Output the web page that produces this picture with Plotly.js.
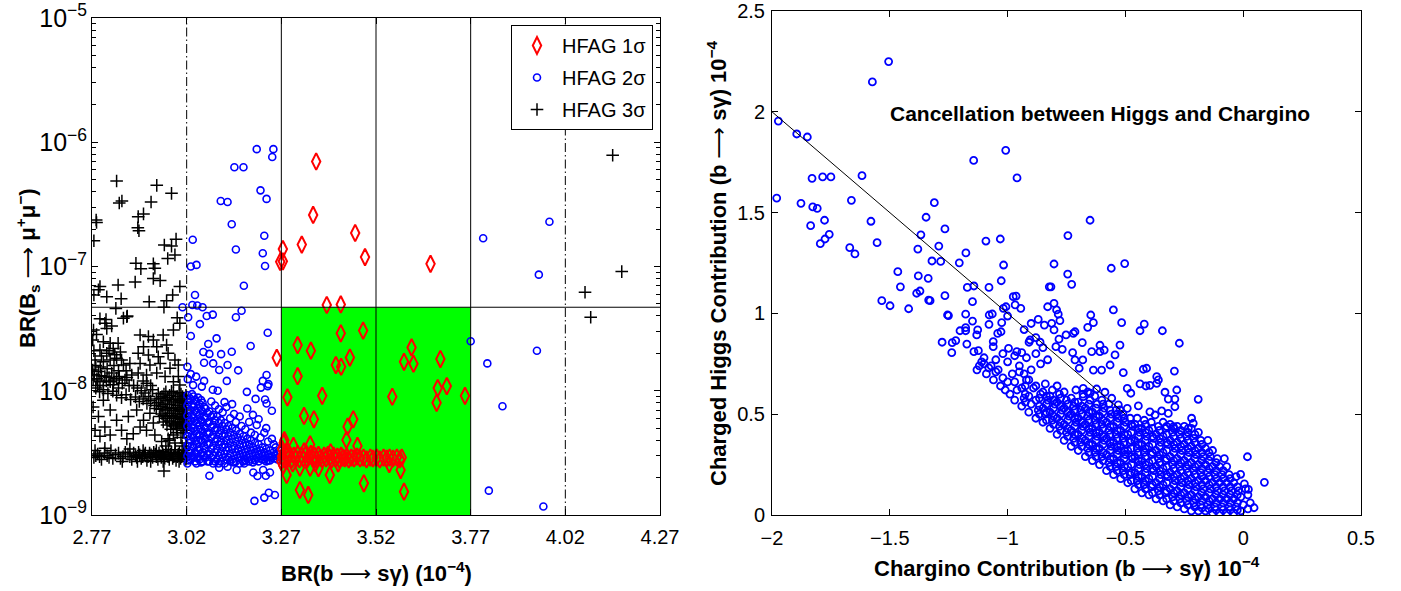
<!DOCTYPE html>
<html>
<head>
<meta charset="utf-8">
<script src="https://cdn.plot.ly/plotly-3.0.1.min.js"></script>
<style>
html,body{margin:0;padding:0;background:#fff;}
#chart{width:1401px;height:591px;}
</style>
</head>
<body>
<div id="chart"></div>
<script>
// ---------------- LEFT PANEL DATA: [BR(b->s gamma) 1e-4, BR(Bs->mu mu)] ----------------
const hfag3Pts = [
 [2.835,4.88e-7],[2.941,4.5e-7],[2.980,3.88e-7],[2.842,3.24e-7],[2.849,3.37e-7],[2.926,3.3e-7],[2.892,2.52e-7],[2.906,2.65e-7],
 [2.891,2.05e-7],[2.894,1.94e-7],[2.781,2.37e-7],[2.782,2.26e-7],[2.775,1.61e-7],[2.961,1.49e-7],[2.980,1.46e-7],[2.992,1.66e-7],
 [2.970,1.16e-7],[2.989,1.24e-7],[2.886,1.06e-7],[2.899,9.6e-8],[2.932,1.05e-7],[2.936,9.7e-8],[2.932,8.0e-8],[2.950,7.7e-8],
 [2.884,7.5e-8],[2.839,7.1e-8],[2.791,6.9e-8],[2.787,6.5e-8],[2.775,5.9e-8],[2.809,5.7e-8],[2.847,5.5e-8],[2.921,5.2e-8],
 [2.967,5.3e-8],[2.983,5.9e-8],[3.002,6.9e-8],[2.833,4.6e-8],[2.960,4.7e-8],[4.145,7.85e-7],[4.169,9.1e-8],[4.072,6.2e-8],
 [2.791,3.8e-8],[2.807,3.75e-8],[2.862,3.94e-8],[2.995,3.87e-8],[4.087,3.9e-8],
 [2.774,3.08e-8],[2.782,2.84e-8],[2.772,2.56e-8],[2.804,3.49e-8],[2.809,3.17e-8],[2.822,3.32e-8],[2.853,3.84e-8],[2.863,4.0e-8],
 [2.800,2.48e-8],[2.818,2.41e-8],[2.826,2.19e-8],[2.839,2.41e-8],[2.809,2.0e-8],[2.791,2.13e-8],[2.778,1.77e-8],[2.800,1.71e-8],
 [2.818,1.77e-8],[2.835,1.83e-8],[2.848,1.77e-8],[2.853,1.61e-8],[2.870,1.66e-8],[2.772,1.47e-8],[2.787,1.43e-8],[2.804,1.30e-8],
 [2.822,1.39e-8],[2.835,1.26e-8],[2.857,1.22e-8],[2.875,1.34e-8],[2.773,1.22e-8],[2.791,1.18e-8],[2.818,1.18e-8],
 [2.897,2.81e-8],[2.919,2.73e-8],[2.932,2.56e-8],[2.958,2.81e-8],[2.985,3.08e-8],[3.002,3.49e-8],[2.941,2.26e-8],[2.967,2.33e-8],
 [2.906,2.26e-8],[2.892,2.0e-8],[2.919,1.94e-8],[2.945,1.88e-8],[2.971,2.0e-8],[2.989,1.77e-8],[2.998,1.61e-8],[2.897,1.66e-8],
 [2.923,1.61e-8],[2.950,1.66e-8],[2.976,1.52e-8],[2.998,1.30e-8],[2.892,1.39e-8],[2.914,1.34e-8],[2.941,1.39e-8],[2.963,1.30e-8],
 [2.985,1.18e-8],[3.002,1.11e-8],
 [2.780,1.05e-8],[2.790,9.8e-9],[2.800,1.02e-8],[2.812,9.5e-9],[2.825,9.9e-9],[2.835,9.2e-9],[2.848,8.8e-9],[2.860,9.3e-9],
 [2.872,8.5e-9],[2.885,8.9e-9],[2.895,8.2e-9],[2.905,8.6e-9],[2.915,7.9e-9],[2.925,8.3e-9],[2.935,7.6e-9],[2.880,1.1e-8],
 [2.890,1.05e-8],[2.900,1.0e-8],[2.910,9.6e-9],[2.920,9.0e-9],[2.930,1.02e-8],[2.940,8.6e-9],[2.905,1.2e-8],[2.925,1.1e-8],[2.915,1.15e-8],
 [2.945,9.5e-9],[2.945,8.0e-9],[2.955,9.0e-9],[2.955,7.5e-9],[2.955,6.5e-9],[2.965,9.8e-9],[2.965,8.3e-9],[2.965,7.0e-9],
 [2.965,6.0e-9],[2.975,9.2e-9],[2.975,7.8e-9],[2.975,6.6e-9],[2.975,5.7e-9],[2.985,9.6e-9],[2.985,8.1e-9],[2.985,6.9e-9],
 [2.985,6.0e-9],[2.985,5.2e-9],[2.995,9.0e-9],[2.995,7.6e-9],[2.995,6.5e-9],[2.995,5.6e-9],[3.005,9.4e-9],[3.005,8.0e-9],
 [3.005,6.8e-9],[3.005,5.9e-9],[3.005,5.1e-9],[3.013,8.6e-9],[3.013,7.3e-9],[3.013,6.2e-9],[3.013,5.4e-9],[3.018,9.2e-9],
 [3.018,7.9e-9],[3.018,6.6e-9],[3.018,5.7e-9],
 [2.950,8.7e-9],[2.950,7.1e-9],[2.960,9.4e-9],[2.960,7.8e-9],[2.960,6.3e-9],[2.970,8.8e-9],[2.970,7.3e-9],[2.970,6.2e-9],
 [2.980,9.9e-9],[2.980,8.5e-9],[2.980,7.2e-9],[2.980,6.3e-9],[2.980,5.5e-9],[2.990,8.6e-9],[2.990,7.3e-9],[2.990,6.2e-9],
 [2.990,5.4e-9],[3.000,9.7e-9],[3.000,8.3e-9],[3.000,7.1e-9],[3.000,6.1e-9],[3.000,5.3e-9],[3.009,9.0e-9],[3.009,7.6e-9],
 [3.009,6.5e-9],[3.009,5.6e-9],[3.016,8.2e-9],[3.016,7.0e-9],[3.016,6.0e-9],[3.016,5.2e-9],[2.940,7.2e-9],[2.948,6.2e-9],
 [2.958,5.6e-9],[2.968,5.3e-9],[2.978,4.9e-9],[2.993,5.0e-9],[3.010,4.6e-9],
 [2.776,1.35e-8],[2.783,1.25e-8],[2.795,1.32e-8],[2.808,1.2e-8],[2.815,1.28e-8],[2.828,1.22e-8],[2.842,1.3e-8],[2.850,1.15e-8],
 [2.862,1.28e-8],[2.868,1.1e-8],[2.780,1.6e-8],[2.792,1.55e-8],[2.810,1.5e-8],[2.828,1.6e-8],[2.840,1.45e-8],[2.860,1.45e-8],
 [2.795,1.9e-8],[2.815,2.1e-8],[2.830,1.95e-8],[2.845,2.05e-8],[2.775,2.1e-8],[2.785,1.1e-8],[2.800,1.1e-8],[2.840,1.05e-8],[2.826,1.12e-8],
 [2.773,7.4e-9],[2.800,8.4e-9],[2.787,6.2e-9],[2.818,7.0e-9],[2.778,4.8e-9],[2.804,5.1e-9],[2.835,5.8e-9],[2.791,4.3e-9],
 [2.818,4.4e-9],[2.848,4.8e-9],[2.862,4.1e-9],[2.879,4.5e-9],[2.897,5.1e-9],[2.914,4.8e-9],[2.906,5.8e-9],[2.932,5.5e-9],
 [2.936,4.4e-9],[2.954,3.9e-9],[2.971,4.1e-9],[2.989,3.8e-9],[2.923,6.6e-9],[2.888,7.0e-9],[2.866,6.2e-9],[2.778,3.3e-9],[2.804,3.45e-9],
 [2.995,4.6e-9],[3.005,4.2e-9],[3.012,4.8e-9],[3.018,3.8e-9],[2.985,4.4e-9],[3.008,3.6e-9],[2.975,4.0e-9],[2.965,3.6e-9],
 [2.775,2.9e-9],[2.785,3.1e-9],[2.795,2.8e-9],[2.810,3.0e-9],[2.825,2.85e-9],[2.840,3.15e-9],[2.852,2.95e-9],[2.865,3.1e-9],
 [2.875,2.8e-9],[2.885,3.0e-9],[2.893,3.2e-9],[2.900,2.85e-9],[2.908,3.05e-9],[2.915,2.75e-9],[2.922,3.15e-9],[2.930,2.9e-9],
 [2.937,3.1e-9],[2.944,2.8e-9],[2.950,3.0e-9],[2.956,3.25e-9],[2.962,2.85e-9],[2.968,3.05e-9],[2.974,2.8e-9],[2.980,3.2e-9],
 [2.986,2.95e-9],[2.992,2.75e-9],[2.998,3.1e-9],[3.004,2.85e-9],[3.010,3.0e-9],[3.016,2.8e-9],[2.890,2.7e-9],[2.905,3.3e-9],
 [2.925,2.7e-9],[2.940,3.3e-9],[2.958,2.7e-9],[2.972,3.35e-9],[2.990,3.35e-9],[3.000,2.7e-9],[3.012,3.3e-9],[2.960,2.26e-9],
 [2.820,3.3e-9],[2.850,2.7e-9],[2.870,3.4e-9],
 [2.780,3.0e-9],[2.790,2.95e-9],[2.803,3.15e-9],[2.815,2.9e-9],[2.832,3.05e-9],[2.845,2.85e-9],[2.858,3.2e-9],[2.870,2.95e-9],
 [2.880,3.15e-9],[2.888,2.9e-9],[2.896,3.05e-9],[2.904,2.95e-9],[2.911,3.15e-9],[2.918,2.95e-9],[2.926,3.05e-9],[2.933,3.2e-9],
 [2.940,2.95e-9],[2.947,3.15e-9],[2.953,2.9e-9],[2.959,3.05e-9],[2.965,3.2e-9],[2.971,2.95e-9],[2.977,3.1e-9],[2.983,2.85e-9],
 [2.989,3.1e-9],[2.995,2.95e-9],[3.001,3.2e-9],[3.007,2.95e-9],[3.013,3.1e-9],[3.019,3.0e-9]
];

const hfag2Pts = [
 [3.205,8.8e-7],[3.249,8.8e-7],[3.246,7.6e-7],[3.146,6.3e-7],[3.170,6.3e-7],[3.110,3.37e-7],[3.128,3.3e-7],[3.215,4.1e-7],
 [3.231,3.5e-7],[3.139,2.19e-7],[3.225,1.77e-7],[3.036,1.64e-7],[3.150,1.37e-7],[3.221,1.28e-7],[3.227,1.01e-7],[3.031,1.0e-7],
 [3.046,1.03e-7],[3.171,7.0e-8],[3.042,5.9e-8],[3.803,1.69e-7],[3.978,2.29e-7],[3.950,8.6e-8],[3.770,2.5e-8],[3.945,2.1e-8],
 [3.814,1.66e-8],[3.854,7.5e-9],[3.818,1.57e-9],[3.962,1.17e-9],
 [3.009,4.7e-8],[3.035,4.9e-8],[3.048,4.85e-8],[3.062,4.7e-8],[3.024,3.9e-8],[3.073,4.0e-8],[3.089,4.1e-8],[3.150,3.9e-8],
 [3.165,4.4e-8],[3.055,3.44e-8],[3.234,2.93e-8],[3.031,2.76e-8],[3.099,2.64e-8],[3.077,2.38e-8],[3.189,2.29e-8],[3.139,2.06e-8],
 [3.064,2.05e-8],[3.080,1.98e-8],[3.111,1.97e-8],[3.066,1.68e-8],[3.090,1.66e-8],[3.128,1.61e-8],[3.022,1.56e-8],[3.106,1.47e-8],
 [3.156,1.46e-8],[3.231,1.34e-8],[3.031,1.36e-8],[3.045,1.30e-8],[3.023,1.24e-8],[3.066,1.20e-8],[3.126,1.20e-8],[3.221,1.20e-8],
 [3.236,1.13e-8],[3.234,1.09e-8],[3.216,1.06e-8],[3.089,1.02e-8],[3.102,1.0e-8],[3.037,1.11e-8],[3.060,1.08e-8],[3.179,9.8e-9],
 [3.227,8.5e-9],[3.231,7.9e-9],[3.245,6.9e-9],[3.202,8.6e-9],
 [3.080,2.07e-9],[3.106,2.4e-9],[3.128,2.45e-9],[3.152,2.3e-9],[3.172,2.6e-9],[3.196,2.2e-9],[3.207,2.06e-9],[3.222,2.3e-9],
 [3.229,2.07e-9],[3.240,2.2e-9],[3.199,1.30e-9],[3.225,1.38e-9],[3.237,1.51e-9],[3.253,1.45e-9],
 [3.022,9.2e-9],[3.022,7.6e-9],[3.022,6.3e-9],[3.022,5.2e-9],[3.022,4.3e-9],[3.022,3.6e-9],[3.022,3.0e-9],[3.022,2.6e-9],
 [3.030,8.6e-9],[3.030,7.0e-9],[3.030,5.8e-9],[3.030,4.8e-9],[3.030,4.0e-9],[3.030,3.3e-9],[3.030,2.8e-9],
 [3.038,9.0e-9],[3.038,7.4e-9],[3.038,6.0e-9],[3.038,5.0e-9],[3.038,4.2e-9],[3.038,3.5e-9],[3.038,2.9e-9],
 [3.046,8.2e-9],[3.046,6.7e-9],[3.046,5.5e-9],[3.046,4.5e-9],[3.046,3.7e-9],[3.046,3.1e-9],[3.046,2.6e-9],
 [3.054,7.8e-9],[3.054,6.4e-9],[3.054,5.3e-9],[3.054,4.4e-9],[3.054,3.4e-9],[3.054,2.8e-9],
 [3.062,8.0e-9],[3.062,6.8e-9],[3.062,5.6e-9],[3.062,4.7e-9],[3.062,3.9e-9],[3.062,3.2e-9],[3.062,2.7e-9],
 [3.070,7.2e-9],[3.070,6.0e-9],[3.070,5.0e-9],[3.070,4.1e-9],[3.070,3.4e-9],[3.070,2.9e-9],
 [3.080,6.8e-9],[3.080,5.6e-9],[3.080,4.6e-9],[3.080,3.8e-9],[3.080,3.1e-9],[3.080,2.7e-9],
 [3.090,6.4e-9],[3.090,5.3e-9],[3.090,4.4e-9],[3.090,3.6e-9],[3.090,3.0e-9],[3.090,2.6e-9],
 [3.100,6.2e-9],[3.100,5.0e-9],[3.100,4.1e-9],[3.100,3.4e-9],[3.100,2.8e-9],
 [3.110,5.8e-9],[3.110,4.8e-9],[3.110,3.9e-9],[3.110,3.2e-9],[3.110,2.7e-9],
 [3.120,5.5e-9],[3.120,4.5e-9],[3.120,3.7e-9],[3.120,3.1e-9],[3.120,2.6e-9],
 [3.130,5.2e-9],[3.130,4.3e-9],[3.130,3.5e-9],[3.130,2.9e-9],
 [3.140,5.0e-9],[3.140,4.1e-9],[3.140,3.4e-9],[3.140,2.8e-9],
 [3.150,4.8e-9],[3.150,3.9e-9],[3.150,3.2e-9],[3.150,2.7e-9],
 [3.160,4.5e-9],[3.160,3.7e-9],[3.160,3.1e-9],[3.160,2.6e-9],
 [3.170,4.3e-9],[3.170,3.6e-9],[3.170,3.0e-9],[3.170,2.7e-9],
 [3.180,4.1e-9],[3.180,3.4e-9],[3.180,2.9e-9],[3.190,4.0e-9],[3.190,3.3e-9],[3.190,2.8e-9],
 [3.200,3.8e-9],[3.200,3.2e-9],[3.200,2.75e-9],[3.210,3.7e-9],[3.210,3.1e-9],[3.210,2.7e-9],
 [3.220,3.5e-9],[3.220,3.0e-9],[3.220,2.8e-9],[3.230,3.4e-9],[3.230,2.9e-9],[3.230,2.7e-9],
 [3.240,3.3e-9],[3.240,2.9e-9],[3.240,2.75e-9],[3.250,3.2e-9],[3.250,2.85e-9],[3.260,3.1e-9],[3.260,2.8e-9],
 [3.085,8.2e-9],[3.095,7.6e-9],[3.105,7.1e-9],[3.115,6.7e-9],[3.125,7.4e-9],[3.135,6.0e-9],[3.145,6.5e-9],[3.150,5.6e-9],
 [3.160,6.2e-9],[3.165,5.2e-9],[3.175,4.9e-9],[3.185,5.6e-9],[3.190,4.6e-9],[3.200,4.4e-9],[3.205,5.3e-9],[3.215,4.2e-9],
 [3.225,4.6e-9],[3.235,3.9e-9],[3.245,4.1e-9],[3.250,3.7e-9],[3.180,7.2e-9],[3.195,6.4e-9],[3.210,5.9e-9],[3.140,7.8e-9],
 [3.120,8.1e-9],[3.230,5.0e-9],[3.255,3.5e-9],[3.265,3.3e-9],
 [3.026,8.1e-9],[3.026,6.8e-9],[3.026,5.6e-9],[3.026,4.6e-9],[3.026,3.8e-9],[3.026,3.2e-9],[3.026,2.75e-9],
 [3.034,9.4e-9],[3.034,7.8e-9],[3.034,6.4e-9],[3.034,5.3e-9],[3.034,4.4e-9],[3.034,3.6e-9],[3.034,3.0e-9],
 [3.042,8.4e-9],[3.042,6.9e-9],[3.042,5.7e-9],[3.042,4.7e-9],[3.042,3.9e-9],[3.042,3.2e-9],[3.042,2.7e-9],
 [3.050,8.8e-9],[3.050,7.2e-9],[3.050,5.9e-9],[3.050,4.9e-9],[3.050,4.0e-9],[3.050,3.3e-9],[3.050,2.85e-9],
 [3.058,8.4e-9],[3.058,7.0e-9],[3.058,5.8e-9],[3.058,4.9e-9],[3.058,4.0e-9],[3.058,3.1e-9],[3.058,2.65e-9],
 [3.066,7.4e-9],[3.066,6.2e-9],[3.066,5.2e-9],[3.066,4.3e-9],[3.066,3.6e-9],[3.066,3.0e-9],
 [3.075,6.6e-9],[3.075,5.5e-9],[3.075,4.5e-9],[3.075,3.7e-9],[3.075,3.1e-9],[3.075,2.7e-9],
 [3.085,6.2e-9],[3.085,5.1e-9],[3.085,4.2e-9],[3.085,3.4e-9],[3.085,2.9e-9],
 [3.095,5.8e-9],[3.095,4.8e-9],[3.095,3.9e-9],[3.095,3.2e-9],[3.095,2.7e-9],
 [3.105,5.5e-9],[3.105,4.5e-9],[3.105,3.7e-9],[3.105,3.0e-9],[3.105,2.6e-9],
 [3.115,5.2e-9],[3.115,4.3e-9],[3.115,3.5e-9],[3.115,2.9e-9],
 [3.125,4.9e-9],[3.125,4.0e-9],[3.125,3.3e-9],[3.125,2.8e-9],
 [3.135,4.6e-9],[3.135,3.8e-9],[3.135,3.1e-9],[3.135,2.7e-9],
 [3.145,4.4e-9],[3.145,3.6e-9],[3.145,3.0e-9],[3.145,2.65e-9],
 [3.155,4.2e-9],[3.155,3.4e-9],[3.155,2.9e-9],[3.165,4.0e-9],[3.165,3.3e-9],[3.165,2.8e-9],
 [3.175,3.8e-9],[3.175,3.2e-9],[3.175,2.75e-9],[3.185,3.7e-9],[3.185,3.1e-9],[3.185,2.7e-9],
 [3.195,3.5e-9],[3.195,3.0e-9],[3.195,2.65e-9],[3.205,3.4e-9],[3.205,2.9e-9],[3.215,3.3e-9],[3.215,2.85e-9],
 [3.225,3.2e-9],[3.225,2.8e-9],[3.235,3.1e-9],[3.235,2.75e-9],[3.245,3.0e-9],[3.255,3.0e-9],[3.265,2.9e-9]
];

const hfag1Pts = [
 [3.362,7.0e-7],[3.354,2.6e-7],[3.324,1.5e-7],[3.274,1.38e-7],[3.267,1.09e-7],[3.274,1.1e-7],[3.465,1.86e-7],[3.491,1.19e-7],
 [3.664,1.05e-7],[3.390,4.9e-8],[3.427,4.95e-8],[3.258,1.84e-8],[3.427,2.9e-8],[3.486,3.05e-8],[3.313,2.33e-8],[3.348,2.10e-8],
 [3.414,1.61e-8],[3.428,1.56e-8],[3.451,1.85e-8],[3.313,1.31e-8],[3.286,8.85e-9],[3.378,9.1e-9],[3.330,6.27e-9],[3.356,5.89e-9],
 [3.460,5.89e-9],[3.445,5.14e-9],[3.442,4.02e-9],[3.278,4.0e-9],[3.302,3.6e-9],[3.346,3.7e-9],[3.471,3.6e-9],[3.284,2.1e-9],
 [3.319,2.4e-9],[3.346,2.4e-9],[3.368,2.38e-9],[3.398,2.1e-9],[3.488,1.8e-9],[3.319,1.59e-9],[3.341,1.45e-9],[3.555,2.57e-9],
 [3.585,2.3e-9],[3.594,1.54e-9],[3.614,2.23e-8],[3.594,1.71e-8],[3.619,1.65e-8],[3.690,1.8e-8],[3.563,8.95e-9],[3.683,1.05e-8],
 [3.707,1.09e-8],[3.680,8.0e-9],[3.755,9.1e-9],
 [3.272,2.95e-9],[3.278,2.8e-9],[3.283,3.1e-9],[3.288,2.85e-9],[3.293,3.05e-9],[3.298,2.8e-9],[3.303,3.0e-9],[3.308,2.9e-9],
 [3.313,3.1e-9],[3.318,2.8e-9],[3.323,3.0e-9],[3.328,2.85e-9],[3.333,3.05e-9],[3.338,2.8e-9],[3.343,2.95e-9],[3.348,3.1e-9],
 [3.353,2.85e-9],[3.358,3.0e-9],[3.363,2.8e-9],[3.368,3.05e-9],[3.373,2.9e-9],[3.378,2.8e-9],[3.383,3.0e-9],[3.388,2.85e-9],
 [3.393,3.05e-9],[3.398,2.9e-9],[3.403,2.8e-9],[3.408,3.0e-9],[3.413,2.85e-9],[3.418,2.95e-9],[3.423,2.8e-9],[3.428,3.0e-9],
 [3.433,2.9e-9],[3.438,2.85e-9],[3.443,2.95e-9],[3.448,2.8e-9],[3.455,2.9e-9],[3.462,2.85e-9],[3.470,2.95e-9],[3.478,2.85e-9],
 [3.487,2.9e-9],[3.495,2.8e-9],[3.505,2.9e-9],[3.512,2.85e-9],[3.522,2.9e-9],[3.530,2.8e-9],[3.540,2.9e-9],[3.548,2.85e-9],
 [3.556,2.9e-9],[3.565,2.85e-9],[3.575,2.9e-9],[3.583,2.8e-9],[3.588,2.9e-9],
 [3.272,3.4e-9],[3.276,3.8e-9],[3.270,2.7e-9],[3.275,2.5e-9],[3.285,3.3e-9],[3.300,2.6e-9],[3.330,3.25e-9],[3.360,2.6e-9],
 [3.400,3.2e-9],[3.420,2.6e-9]
];

// reference limits drawn in the left panel
const sigmaBandEdges = [3.27, 3.52, 3.77];   // solid vertical lines
const twoSigmaEdges = [3.02, 4.02];           // dash-dot vertical lines
const bsmumuLimit = 4.7e-8;                    // horizontal limit
const greenBox = {x: [3.27, 3.77], y: [1e-9, 4.7e-8]};

// ---------------- RIGHT PANEL DATA: [chargino, charged Higgs] (1e-4) ----------------
const scanSparse = [
 [-1.505,2.249],[-1.574,2.148],[-1.973,1.954],[-1.895,1.890],[-1.850,1.875],[-1.980,1.572],[-1.830,1.670],[-1.785,1.677],
 [-1.750,1.677],[-1.618,1.683],[-1.877,1.546],[-1.827,1.528],[-1.808,1.521],[-1.663,1.561],[-1.777,1.462],[-1.580,1.457],
 [-1.836,1.435],[-1.757,1.392],[-1.775,1.369],[-1.795,1.346],[-1.670,1.326],[-1.648,1.295],[-1.554,1.351],[-1.144,1.759],
 [-1.008,1.809],[-0.960,1.672],[-1.311,1.549],[-1.346,1.477],[-1.266,1.419],[-1.368,1.390],[-1.381,1.319],[-1.292,1.334],
 [-1.321,1.260],[-1.284,1.258],[-1.177,1.300],[-1.205,1.251],[-1.092,1.359],[-1.031,1.369],[-1.017,1.240],[-1.027,1.162],
 [-1.466,1.207],[-1.379,1.186],[-1.337,1.174],[-1.455,1.132],[-1.386,1.100],[-1.372,1.111],[-1.171,1.129],[-1.143,1.136],
 [-1.079,1.129],[-1.266,1.088],[-0.964,1.086],[-0.823,1.132],[-0.650,1.462],[-0.744,1.386],[-0.803,1.245],[-0.745,1.195],
 [-0.728,1.144],[-0.816,1.132],[-0.560,1.224],[-0.503,1.247],
 [-1.534,1.063],[-1.499,1.038],[-1.420,1.023],[-1.335,1.066],[-1.329,1.063],[-1.255,0.992],[-1.251,0.989],[-1.278,0.857],
 [-1.237,0.805],[-1.235,0.855],[-1.220,0.865],[-1.202,0.914],[-1.178,0.914],[-1.178,0.929],[-1.173,0.848],[-1.178,0.996],
 [-1.149,1.058],[-1.149,0.962],[-1.143,0.810],[-1.124,0.815],[-1.131,0.893],[-1.127,0.918],[-1.079,0.946],[-1.078,0.992],
 [-1.065,0.997],[-1.042,0.901],[-1.061,0.860],[-1.061,0.835],[-1.028,0.909],[-1.018,1.025],[-1.007,1.033],[-1.025,0.954],
 [-1.000,0.987],[-0.976,1.083],[-0.968,1.042],[-0.944,1.025],[-0.844,0.942],[-0.830,1.033],[-0.909,0.857],[-0.862,0.857],
 [-0.905,0.868],[-0.996,0.827],[-0.961,0.810],[-0.940,0.805],
 [-0.803,1.050],[-0.792,1.017],[-0.785,0.996],[-0.778,0.964],[-0.813,0.951],[-0.803,0.918],[-0.752,0.893],[-0.721,0.901],
 [-0.714,0.909],[-0.647,0.992],[-0.636,0.954],[-0.660,0.931],[-0.551,1.017],[-0.516,0.954],[-0.438,0.914],[-0.420,0.947],
 [-0.343,0.914],[-0.271,0.852],[-0.782,0.872],[-0.795,0.835],[-0.768,0.822],[-0.724,0.805],[-0.683,0.855],[-0.608,0.842],
 [-0.590,0.818],[-0.608,0.810],[-0.643,0.810],[-0.523,0.843],[-0.544,0.794],[-0.565,0.744],[-0.509,0.706],[-0.601,0.719],
 [-0.636,0.719],[-0.696,0.728],[-0.681,0.769],[-0.714,0.769],[-0.424,0.723],[-0.410,0.728],[-0.367,0.686],[-0.360,0.670],
 [-0.367,0.653],[-0.292,0.714],[-0.492,0.628],[-0.477,0.604],[-0.438,0.650],[-0.413,0.640],[-0.396,0.643],[-0.332,0.609],
 [-0.318,0.575],[-0.282,0.620],[-0.290,0.575],[-0.191,0.574],[-0.445,0.541],[-0.396,0.512],[-0.374,0.496],[-0.346,0.516],
 [-0.318,0.504],[-0.290,0.537],[-0.296,0.438],[-0.219,0.480],[-0.212,0.455],[-0.233,0.430],[-0.587,0.609],[-0.558,0.579],
 [-0.530,0.546],[-0.523,0.521],[-0.492,0.529],[-0.679,0.587],[-0.650,0.604],[-0.622,0.625],[-0.679,0.628],
 [0.018,0.289],[-0.011,0.202],[0.090,0.162],[0.046,0.036],[0.005,0.154],[0.022,0.127],
 [-1.10,0.78],[-1.05,0.77],[-1.00,0.76],[-0.95,0.74],[-0.90,0.72],[-0.92,0.78],[-0.86,0.75],[-0.97,0.79],[-1.02,0.80],
 [-0.88,0.80],[-0.83,0.77],[-0.93,0.70],[-0.93,0.92],[-0.88,0.88],[-0.90,0.95],[-0.85,0.83],[-0.87,0.97]
];

const scanCloud = [
 [-1.12,0.74],[-1.11,0.76],[-1.13,0.72],[-1.09,0.70],[-1.08,0.73],[-1.10,0.75],[-1.06,0.67],[-1.05,0.71],[-1.07,0.74],
 [-1.03,0.64],[-1.02,0.68],[-1.04,0.72],[-1.01,0.62],[-0.99,0.60],[-1.00,0.66],[-0.98,0.70],
 [-0.97,0.57],[-0.96,0.62],[-0.97,0.66],[-0.95,0.71],[-0.94,0.54],[-0.93,0.58],[-0.94,0.63],[-0.92,0.67],
 [-0.91,0.51],[-0.90,0.55],[-0.91,0.59],[-0.89,0.63],[-0.91,0.67],[-0.88,0.48],[-0.87,0.52],[-0.88,0.57],[-0.86,0.60],[-0.88,0.64],
 [-0.85,0.46],[-0.84,0.50],[-0.85,0.53],[-0.83,0.57],[-0.85,0.61],[-0.84,0.65],
 [-0.82,0.43],[-0.81,0.47],[-0.82,0.51],[-0.80,0.55],[-0.82,0.59],[-0.81,0.62],
 [-0.79,0.40],[-0.78,0.44],[-0.79,0.48],[-0.77,0.52],[-0.79,0.56],[-0.78,0.60],[-0.79,0.64],
 [-0.76,0.37],[-0.75,0.41],[-0.76,0.45],[-0.74,0.49],[-0.76,0.53],[-0.75,0.57],[-0.76,0.61],
 [-0.73,0.34],[-0.72,0.38],[-0.73,0.42],[-0.71,0.46],[-0.73,0.50],[-0.72,0.54],[-0.73,0.58],[-0.71,0.62],
 [-0.70,0.32],[-0.69,0.36],[-0.70,0.40],[-0.68,0.44],[-0.70,0.48],[-0.69,0.52],[-0.70,0.56],[-0.68,0.60],
 [-0.67,0.29],[-0.66,0.33],[-0.67,0.37],[-0.65,0.41],[-0.67,0.45],[-0.66,0.49],[-0.67,0.53],[-0.65,0.57],[-0.66,0.61],
 [-0.64,0.27],[-0.63,0.31],[-0.64,0.35],[-0.62,0.39],[-0.64,0.43],[-0.63,0.47],[-0.64,0.51],[-0.62,0.55],[-0.63,0.59],
 [-0.61,0.25],[-0.60,0.29],[-0.61,0.33],[-0.59,0.37],[-0.61,0.41],[-0.60,0.45],[-0.61,0.49],[-0.59,0.53],[-0.60,0.57],
 [-0.58,0.22],[-0.57,0.26],[-0.58,0.30],[-0.56,0.34],[-0.58,0.38],[-0.57,0.42],[-0.58,0.46],[-0.56,0.50],[-0.57,0.55],
 [-0.55,0.20],[-0.54,0.24],[-0.55,0.28],[-0.53,0.32],[-0.55,0.36],[-0.54,0.40],[-0.55,0.44],[-0.53,0.48],[-0.54,0.52],
 [-0.52,0.18],[-0.51,0.22],[-0.52,0.26],[-0.50,0.30],[-0.52,0.34],[-0.51,0.38],[-0.52,0.42],[-0.50,0.46],[-0.51,0.50],
 [-0.49,0.16],[-0.48,0.20],[-0.49,0.24],[-0.47,0.28],[-0.49,0.32],[-0.48,0.36],[-0.49,0.40],[-0.47,0.44],[-0.48,0.48],
 [-0.46,0.13],[-0.45,0.17],[-0.46,0.21],[-0.44,0.25],[-0.46,0.29],[-0.45,0.33],[-0.46,0.37],[-0.44,0.41],[-0.46,0.45],[-0.45,0.48],
 [-0.43,0.11],[-0.42,0.15],[-0.43,0.19],[-0.41,0.23],[-0.43,0.27],[-0.42,0.31],[-0.43,0.35],[-0.41,0.39],[-0.43,0.43],[-0.42,0.47],
 [-0.40,0.10],[-0.39,0.14],[-0.40,0.18],[-0.38,0.22],[-0.40,0.26],[-0.39,0.30],[-0.40,0.34],[-0.38,0.38],[-0.40,0.42],[-0.39,0.46],
 [-0.37,0.08],[-0.36,0.12],[-0.37,0.16],[-0.35,0.20],[-0.37,0.24],[-0.36,0.28],[-0.37,0.32],[-0.35,0.36],[-0.37,0.40],[-0.36,0.44],
 [-0.34,0.07],[-0.33,0.11],[-0.34,0.15],[-0.32,0.19],[-0.34,0.23],[-0.33,0.27],[-0.34,0.31],[-0.32,0.35],[-0.34,0.39],[-0.33,0.43],[-0.34,0.46],
 [-0.31,0.05],[-0.30,0.09],[-0.31,0.13],[-0.29,0.17],[-0.31,0.21],[-0.30,0.25],[-0.31,0.29],[-0.29,0.33],[-0.31,0.37],[-0.30,0.41],[-0.31,0.45],
 [-0.28,0.04],[-0.27,0.08],[-0.28,0.12],[-0.26,0.16],[-0.28,0.20],[-0.27,0.24],[-0.28,0.28],[-0.26,0.32],[-0.28,0.36],[-0.27,0.40],[-0.28,0.44],
 [-0.25,0.03],[-0.24,0.07],[-0.25,0.11],[-0.23,0.15],[-0.25,0.19],[-0.24,0.23],[-0.25,0.27],[-0.23,0.31],[-0.25,0.35],[-0.24,0.39],[-0.25,0.44],
 [-0.22,0.02],[-0.21,0.06],[-0.22,0.10],[-0.20,0.14],[-0.22,0.18],[-0.21,0.22],[-0.22,0.26],[-0.20,0.30],[-0.22,0.34],[-0.21,0.38],[-0.22,0.43],
 [-0.19,0.02],[-0.18,0.05],[-0.19,0.09],[-0.17,0.13],[-0.19,0.17],[-0.18,0.21],[-0.19,0.25],[-0.17,0.29],[-0.19,0.33],[-0.18,0.37],[-0.19,0.41],
 [-0.16,0.02],[-0.15,0.05],[-0.16,0.09],[-0.14,0.13],[-0.16,0.17],[-0.15,0.21],[-0.16,0.25],[-0.14,0.29],[-0.16,0.33],[-0.15,0.37],
 [-0.13,0.01],[-0.12,0.04],[-0.13,0.08],[-0.11,0.12],[-0.13,0.16],[-0.12,0.20],[-0.13,0.24],[-0.11,0.28],[-0.13,0.32],
 [-0.10,0.01],[-0.09,0.04],[-0.10,0.08],[-0.08,0.12],[-0.10,0.16],[-0.09,0.20],[-0.10,0.24],[-0.08,0.28],
 [-0.07,0.01],[-0.06,0.04],[-0.07,0.08],[-0.05,0.12],[-0.07,0.16],[-0.06,0.20],[-0.07,0.24],
 [-0.04,0.01],[-0.03,0.04],[-0.04,0.08],[-0.02,0.12],[-0.04,0.16],[-0.03,0.19],
 [-0.01,0.02],[0.00,0.05],[-0.01,0.09],[0.01,0.13],[0.02,0.03],[0.03,0.06],[0.02,0.10]
];

const scanCore = [
 [-0.925,0.56],[-0.925,0.60],[-0.925,0.64],[-0.865,0.50],[-0.865,0.54],[-0.865,0.58],
 [-0.835,0.47],[-0.835,0.51],[-0.835,0.55],[-0.835,0.59],[-0.805,0.45],[-0.805,0.49],[-0.805,0.53],[-0.805,0.57],
 [-0.775,0.42],[-0.775,0.46],[-0.775,0.50],[-0.775,0.54],[-0.775,0.58],[-0.745,0.39],[-0.745,0.43],[-0.745,0.47],[-0.745,0.51],[-0.745,0.55],
 [-0.715,0.36],[-0.715,0.40],[-0.715,0.44],[-0.715,0.48],[-0.715,0.52],[-0.715,0.56],
 [-0.685,0.34],[-0.685,0.38],[-0.685,0.42],[-0.685,0.46],[-0.685,0.50],[-0.685,0.54],
 [-0.655,0.31],[-0.655,0.35],[-0.655,0.39],[-0.655,0.43],[-0.655,0.47],[-0.655,0.51],[-0.655,0.55],
 [-0.625,0.29],[-0.625,0.33],[-0.625,0.37],[-0.625,0.41],[-0.625,0.45],[-0.625,0.49],[-0.625,0.53],
 [-0.595,0.27],[-0.595,0.31],[-0.595,0.35],[-0.595,0.39],[-0.595,0.43],[-0.595,0.47],[-0.595,0.51],[-0.595,0.55],
 [-0.565,0.24],[-0.565,0.28],[-0.565,0.32],[-0.565,0.36],[-0.565,0.40],[-0.565,0.44],[-0.565,0.48],[-0.565,0.52],
 [-0.535,0.22],[-0.535,0.26],[-0.535,0.30],[-0.535,0.34],[-0.535,0.38],[-0.535,0.42],[-0.535,0.46],[-0.535,0.50],
 [-0.505,0.20],[-0.505,0.24],[-0.505,0.28],[-0.505,0.32],[-0.505,0.36],[-0.505,0.40],[-0.505,0.44],[-0.505,0.48],
 [-0.475,0.17],[-0.475,0.21],[-0.475,0.25],[-0.475,0.29],[-0.475,0.33],[-0.475,0.37],[-0.475,0.41],[-0.475,0.45],
 [-0.445,0.15],[-0.445,0.19],[-0.445,0.23],[-0.445,0.27],[-0.445,0.31],[-0.445,0.35],[-0.445,0.39],[-0.445,0.43],
 [-0.415,0.13],[-0.415,0.17],[-0.415,0.21],[-0.415,0.25],[-0.415,0.29],[-0.415,0.33],[-0.415,0.37],[-0.415,0.41],[-0.415,0.45],
 [-0.385,0.11],[-0.385,0.15],[-0.385,0.19],[-0.385,0.23],[-0.385,0.27],[-0.385,0.31],[-0.385,0.35],[-0.385,0.39],[-0.385,0.43],
 [-0.355,0.10],[-0.355,0.14],[-0.355,0.18],[-0.355,0.22],[-0.355,0.26],[-0.355,0.30],[-0.355,0.34],[-0.355,0.38],[-0.355,0.42],
 [-0.325,0.08],[-0.325,0.12],[-0.325,0.16],[-0.325,0.20],[-0.325,0.24],[-0.325,0.28],[-0.325,0.32],[-0.325,0.36],[-0.325,0.40],[-0.325,0.44],
 [-0.295,0.07],[-0.295,0.11],[-0.295,0.15],[-0.295,0.19],[-0.295,0.23],[-0.295,0.27],[-0.295,0.31],[-0.295,0.35],[-0.295,0.39],[-0.295,0.43],
 [-0.265,0.06],[-0.265,0.10],[-0.265,0.14],[-0.265,0.18],[-0.265,0.22],[-0.265,0.26],[-0.265,0.30],[-0.265,0.34],[-0.265,0.38],[-0.265,0.42],
 [-0.235,0.05],[-0.235,0.09],[-0.235,0.13],[-0.235,0.17],[-0.235,0.21],[-0.235,0.25],[-0.235,0.29],[-0.235,0.33],[-0.235,0.37],[-0.235,0.41],
 [-0.205,0.04],[-0.205,0.08],[-0.205,0.12],[-0.205,0.16],[-0.205,0.20],[-0.205,0.24],[-0.205,0.28],[-0.205,0.32],[-0.205,0.36],[-0.205,0.40],
 [-0.175,0.035],[-0.175,0.07],[-0.175,0.11],[-0.175,0.15],[-0.175,0.19],[-0.175,0.23],[-0.175,0.27],[-0.175,0.31],[-0.175,0.35],
 [-0.145,0.03],[-0.145,0.07],[-0.145,0.11],[-0.145,0.15],[-0.145,0.19],[-0.145,0.23],[-0.145,0.27],[-0.145,0.31],
 [-0.115,0.025],[-0.115,0.06],[-0.115,0.10],[-0.115,0.14],[-0.115,0.18],[-0.115,0.22],[-0.115,0.26],
 [-0.085,0.025],[-0.085,0.06],[-0.085,0.10],[-0.085,0.14],[-0.085,0.18],[-0.085,0.22],
 [-0.055,0.025],[-0.055,0.06],[-0.055,0.10],[-0.055,0.14],[-0.055,0.18],
 [-0.025,0.025],[-0.025,0.06],[-0.025,0.10],[-0.025,0.14]
];

const cancelLineX = [-2, -0.5];
const cancelLineY = [2, 0.5];

// ---------------- DRAWING ----------------
const FONT = '"Liberation Sans", Arial, Helvetica, sans-serif';
const ARROW = '<span style="font-family:\'DejaVu Sans\';font-weight:normal">\u27f6</span>';
const px = a => a.map(p => p[0]);
const py = a => a.map(p => p[1]);
const scanAll = scanSparse.concat(scanCloud, scanCore);

const traces = [
  {type:'scatter', mode:'markers', name:'HFAG 3\u03c3', legendgroup:'g3', legendrank:3,
   x:px(hfag3Pts), y:py(hfag3Pts), xaxis:'x', yaxis:'y',
   marker:{symbol:'cross-thin-open', size:9, color:'#000000', line:{width:1.5, color:'#000000'}}},
  {type:'scatter', mode:'markers', name:'HFAG 2\u03c3', legendgroup:'g2', legendrank:2,
   x:px(hfag2Pts), y:py(hfag2Pts), xaxis:'x', yaxis:'y',
   marker:{symbol:'circle-open', size:7, color:'#0000ff', line:{width:1.6, color:'#0000ff'}}},
  {type:'scatter', mode:'markers', name:'HFAG 1\u03c3', legendgroup:'g1', legendrank:1,
   x:px(hfag1Pts), y:py(hfag1Pts), xaxis:'x', yaxis:'y',
   marker:{symbol:'diamond-tall-open', size:12, color:'#ff0000', line:{width:2, color:'#ff0000'}}},
  {type:'scatter', mode:'markers', showlegend:false,
   x:px(scanAll), y:py(scanAll), xaxis:'x2', yaxis:'y2',
   marker:{symbol:'circle-open', size:7, color:'#0000ff', line:{width:1.8, color:'#0000ff'}}},
  {type:'scatter', mode:'lines', showlegend:false,
   x:cancelLineX, y:cancelLineY, xaxis:'x2', yaxis:'y2',
   line:{color:'#000000', width:1}}
];

const shapes = [];
shapes.push({type:'rect', xref:'x', yref:'y', x0:greenBox.x[0], x1:greenBox.x[1], y0:greenBox.y[0], y1:greenBox.y[1],
  fillcolor:'#00ff00', line:{width:0}, layer:'below'});
sigmaBandEdges.forEach(v => shapes.push({type:'line', xref:'x', yref:'y domain', x0:v, x1:v, y0:0, y1:1,
  line:{color:'#000000', width:1}, layer:'above'}));
twoSigmaEdges.forEach(v => shapes.push({type:'line', xref:'x', yref:'y domain', x0:v, x1:v, y0:0, y1:1,
  line:{color:'#000000', width:1, dash:'9px,3px,1.5px,3px'}, layer:'above'}));
shapes.push({type:'line', xref:'x domain', yref:'y', x0:0, x1:1, y0:bsmumuLimit, y1:bsmumuLimit,
  line:{color:'#000000', width:1}, layer:'above'});

const axisCommon = {
  showline:true, mirror:'ticks', linecolor:'#000000', linewidth:1,
  ticks:'inside', ticklen:6, tickwidth:1, tickcolor:'#000000',
  showgrid:false, zeroline:false, tickfont:{family:FONT, size:20, color:'#000000'}
};

const TITLE_SIZE = 22;
const layout = {
  width:1401, height:591,
  margin:{l:0, r:0, t:0, b:0},
  paper_bgcolor:'#ffffff', plot_bgcolor:'#ffffff',
  font:{family:FONT, size:20, color:'#000000'},
  showlegend:true,
  legend:{x:653/1401, xanchor:'right', y:1-25/591, yanchor:'top',
    bordercolor:'#000000', borderwidth:1, bgcolor:'#ffffff',
    traceorder:'grouped', tracegroupgap:3, itemwidth:40, font:{family:FONT, size:20}},
  xaxis:Object.assign({}, axisCommon, {domain:[92/1401, 660/1401], range:[2.77, 4.27],
    tickmode:'linear', tick0:2.77, dtick:0.25, anchor:'y', ticklabelstandoff:4}),
  yaxis:Object.assign({}, axisCommon, {domain:[76/591, 573/591], type:'log', range:[-9, -5],
    dtick:1, exponentformat:'power', anchor:'x',
    minor:{ticks:'inside', ticklen:4, dtick:'D1', tickcolor:'#000000', showgrid:false}}),
  xaxis2:Object.assign({}, axisCommon, {domain:[772/1401, 1361/1401], range:[-2, 0.5],
    tickmode:'linear', tick0:-2, dtick:0.5, anchor:'y2', ticklabelstandoff:5}),
  yaxis2:Object.assign({}, axisCommon, {domain:[76/591, 580/591], range:[0, 2.5],
    tickmode:'linear', tick0:0, dtick:0.5, anchor:'x2', ticklabelstandoff:2}),
  shapes:shapes,
  annotations:[
    {xref:'x2', yref:'y2', x:-0.608, y:1.994, showarrow:false,
     text:'<b>Cancellation between Higgs and Chargino</b>', font:{family:FONT, size:21, color:'#000'}},
    {xref:'paper', yref:'paper', x:376/1401, y:1-572/591, showarrow:false, xanchor:'center', yanchor:'middle',
     text:'<b>BR(b ' + ARROW + ' s\u03b3) (10<sup>\u22124</sup>)</b>', font:{family:FONT, size:TITLE_SIZE, color:'#000'}},
    {xref:'paper', yref:'paper', x:27/1401, y:1-268/591, showarrow:false, xanchor:'center', yanchor:'middle', textangle:-90,
     text:'<b>BR(B<sub>s</sub> ' + ARROW + ' \u03bc<sup>+</sup>\u03bc<sup>\u2212</sup>)</b>', font:{family:FONT, size:TITLE_SIZE, color:'#000'}},
    {xref:'paper', yref:'paper', x:1067/1401, y:1-567/591, showarrow:false, xanchor:'center', yanchor:'middle',
     text:'<b>Chargino Contribution (b ' + ARROW + ' s\u03b3) 10<sup>\u22124</sup></b>', font:{family:FONT, size:TITLE_SIZE, color:'#000'}},
    {xref:'paper', yref:'paper', x:717/1401, y:1-263/591, showarrow:false, xanchor:'center', yanchor:'middle', textangle:-90,
     text:'<b>Charged Higgs Contribution (b ' + ARROW + ' s\u03b3) 10<sup>\u22124</sup></b>', font:{family:FONT, size:TITLE_SIZE, color:'#000'}}
  ]
};

Plotly.newPlot('chart', traces, layout, {displayModeBar:false, staticPlot:true});
</script>
</body>
</html>
